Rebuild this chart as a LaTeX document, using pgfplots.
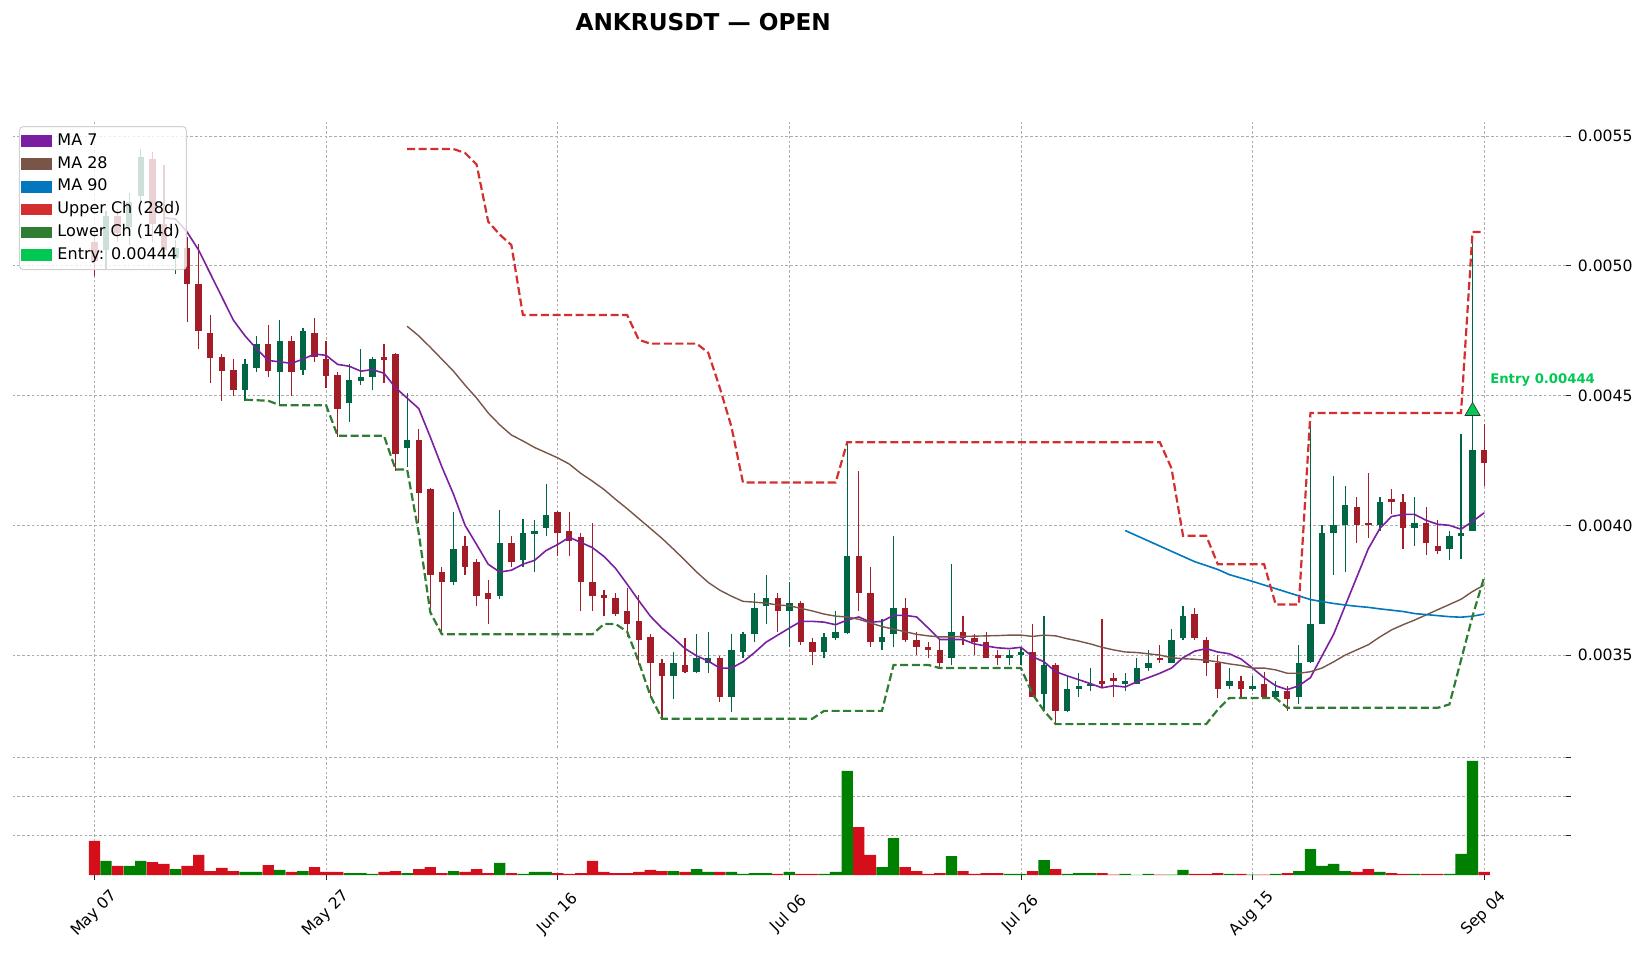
\documentclass[border=0pt]{standalone}
\usepackage{pgfplots}
\pgfplotsset{compat=1.18}
\usepackage{pgfplotstable}
\usepackage{fontspec}
\setmainfont{DejaVu Sans}

\definecolor{cgreen}{RGB}{0,102,68}
\definecolor{cred}{RGB}{163,29,41}
\definecolor{vgreen}{RGB}{0,128,0}
\definecolor{vred}{RGB}{212,14,26}
\definecolor{ma7}{RGB}{123,31,162}
\definecolor{ma28}{RGB}{121,85,72}
\definecolor{ma90}{RGB}{2,119,189}
\definecolor{upch}{RGB}{211,47,47}
\definecolor{loch}{RGB}{46,125,50}
\definecolor{entry}{RGB}{0,200,83}

% day open high low close volume, rising candles
\pgfplotstableread{
d o h l c v
1 0.00506 0.00521 0.004985 0.00519 0.36
3 0.00515 0.00528 0.00508 0.005245 0.23
4 0.00527 0.00545 0.00523 0.00542 0.36
7 0.00503 0.00510 0.00497 0.00507 0.15
13 0.00452 0.00464 0.00448 0.00462 0.08
14 0.004606 0.00473 0.00459 0.00470 0.08
16 0.00459 0.00479 0.00446 0.00471 0.13
18 0.004597 0.00476 0.00458 0.00475 0.10
22 0.00447 0.00462 0.00440 0.00456 0.05
23 0.004555 0.00468 0.00454 0.00457 0.05
24 0.00457 0.00465 0.00452 0.00464 0.03
27 0.004297 0.00451 0.004225 0.00433 0.05
31 0.00378 0.00405 0.00377 0.00391 0.10
35 0.003727 0.00406 0.003715 0.00393 0.31
37 0.003865 0.004025 0.00384 0.00397 0.03
38 0.003966 0.00402 0.00382 0.00398 0.08
39 0.00399 0.00416 0.00396 0.00404 0.08
50 0.00342 0.00351 0.00333 0.00347 0.10
52 0.003435 0.00358 0.00343 0.00349 0.15
53 0.00347 0.00359 0.00343 0.00349 0.08
55 0.00334 0.00358 0.00328 0.00352 0.08
56 0.00351 0.00359 0.00349 0.00358 0.03
57 0.00358 0.00374 0.00355 0.00368 0.05
58 0.00369 0.00381 0.00362 0.00372 0.05
60 0.00367 0.00378 0.00353 0.00370 0.08
63 0.00351 0.003585 0.00349 0.00357 0.03
64 0.003565 0.00367 0.00356 0.00359 0.08
65 0.003585 0.00432 0.00358 0.00388 2.65
68 0.00355 0.00364 0.00352 0.00357 0.20
69 0.00358 0.00396 0.00353 0.00368 0.94
74 0.00349 0.00385 0.00346 0.00359 0.48
79 0.00349 0.00352 0.00346 0.00350 0.03
80 0.00350 0.00353 0.00346 0.00351 0.03
82 0.00335 0.00365 0.003285 0.00346 0.38
84 0.003285 0.00342 0.00328 0.00337 0.03
85 0.00337 0.00343 0.00334 0.00338 0.05
86 0.00338 0.00345 0.00336 0.00339 0.05
89 0.00339 0.00343 0.00336 0.00340 0.03
90 0.00339 0.00349 0.003388 0.00345 0.005
91 0.00345 0.00352 0.00344 0.00347 0.03
93 0.00347 0.00360 0.003468 0.00356 0.01
94 0.003565 0.00369 0.00356 0.00365 0.13
98 0.00338 0.00345 0.00337 0.00340 0.03
100 0.00337 0.00342 0.00336 0.00338 0.01
102 0.00334 0.00340 0.003338 0.00336 0.03
104 0.00334 0.00354 0.00331 0.00347 0.10
105 0.003475 0.00440 0.00347 0.00362 0.66
106 0.00362 0.00400 0.003618 0.00397 0.23
107 0.00397 0.00419 0.00381 0.00400 0.28
108 0.00400 0.00415 0.00382 0.00408 0.10
111 0.00400 0.00411 0.00398 0.00409 0.08
114 0.00399 0.00411 0.00392 0.00401 0.03
117 0.00391 0.00398 0.003865 0.00396 0.03
118 0.00396 0.00435 0.00387 0.00397 0.54
119 0.00398 0.00509 0.00398 0.00429 2.90
}\gc

% falling candles
\pgfplotstableread{
d o h l c v
0 0.00509 0.00513 0.00496 0.00502 0.87
2 0.00519 0.00522 0.00509 0.005125 0.23
5 0.00541 0.00544 0.00509 0.00516 0.33
6 0.00516 0.00539 0.00504 0.00506 0.28
8 0.00507 0.00511 0.004785 0.00493 0.23
9 0.00493 0.005085 0.00468 0.00475 0.51
10 0.00474 0.00481 0.00455 0.004645 0.10
11 0.00465 0.00466 0.00448 0.004595 0.18
12 0.00460 0.00464 0.00450 0.00452 0.10
15 0.00470 0.00477 0.00457 0.004595 0.25
17 0.00471 0.00473 0.00450 0.00459 0.08
19 0.00474 0.00480 0.00463 0.00465 0.20
20 0.00464 0.00471 0.00453 0.004575 0.08
21 0.00458 0.00459 0.00434 0.00445 0.08
25 0.00465 0.00470 0.00455 0.004637 0.08
26 0.00466 0.004665 0.00421 0.004276 0.10
28 0.00433 0.00437 0.00401 0.004126 0.15
29 0.00414 0.004145 0.003665 0.00381 0.20
30 0.00382 0.00384 0.00359 0.00378 0.05
32 0.00392 0.00396 0.00381 0.00384 0.08
33 0.00386 0.00387 0.00369 0.003727 0.15
34 0.00374 0.00379 0.00362 0.003715 0.05
36 0.00393 0.00396 0.00384 0.00386 0.05
40 0.00405 0.004055 0.00388 0.00397 0.05
41 0.00398 0.00405 0.00388 0.00394 0.03
42 0.003955 0.00397 0.00367 0.00378 0.05
43 0.00378 0.00401 0.00367 0.003727 0.36
44 0.00373 0.00375 0.00365 0.00372 0.08
45 0.00372 0.00374 0.00365 0.00366 0.05
46 0.00367 0.00376 0.00357 0.00362 0.05
47 0.00363 0.00373 0.00346 0.00356 0.08
48 0.00357 0.00358 0.00334 0.00347 0.13
49 0.00347 0.003485 0.00325 0.00342 0.10
51 0.00346 0.003565 0.00343 0.003435 0.08
54 0.00349 0.003495 0.00332 0.00334 0.08
59 0.00372 0.00374 0.00359 0.00367 0.03
61 0.00370 0.00371 0.00354 0.00355 0.03
62 0.00355 0.003565 0.00346 0.00351 0.03
66 0.00388 0.00421 0.00367 0.00374 1.22
67 0.00374 0.00384 0.00353 0.00355 0.51
70 0.00368 0.00372 0.00355 0.00356 0.20
71 0.00356 0.00359 0.00350 0.00353 0.10
72 0.00353 0.00355 0.00349 0.00352 0.03
73 0.00352 0.00356 0.00345 0.00347 0.05
75 0.00359 0.00365 0.00354 0.003565 0.10
76 0.003565 0.00358 0.00350 0.00355 0.03
77 0.00355 0.00359 0.003488 0.00349 0.05
78 0.00350 0.00352 0.00346 0.00349 0.05
81 0.00351 0.00362 0.003338 0.00334 0.10
83 0.00346 0.00347 0.00323 0.003285 0.15
87 0.00340 0.00364 0.003375 0.00339 0.05
88 0.00341 0.00343 0.00334 0.00340 0.01
92 0.00349 0.00354 0.00347 0.00348 0.01
95 0.00366 0.00368 0.00356 0.003565 0.03
96 0.00356 0.00357 0.00342 0.00347 0.03
97 0.00347 0.00350 0.003335 0.00337 0.05
99 0.00340 0.00342 0.00334 0.00337 0.03
101 0.00339 0.003435 0.003335 0.00334 0.01
103 0.00336 0.00338 0.003285 0.00333 0.05
109 0.00407 0.00411 0.00393 0.00400 0.08
110 0.00401 0.00420 0.00395 0.00400 0.15
112 0.00410 0.00414 0.004045 0.00409 0.05
113 0.00409 0.00412 0.00391 0.00399 0.03
115 0.00401 0.00407 0.003885 0.00393 0.03
116 0.00392 0.00402 0.00389 0.00390 0.03
120 0.00429 0.00439 0.00415 0.00424 0.08
}\rc

\pgfplotstableread{
d m
6 0.005185
7 0.00518
8 0.00513
9 0.00506
10 0.00497
11 0.00488
12 0.00479
13 0.00473
14 0.00468
15 0.004635
16 0.00463
17 0.004624
18 0.00464
19 0.00466
20 0.004655
21 0.00462
22 0.004613
23 0.004594
24 0.0046
25 0.004586
26 0.00453
27 0.00449
28 0.00445
29 0.00434
30 0.004225
31 0.00412
32 0.004
33 0.003926
34 0.00385
35 0.00382
36 0.003827
37 0.00385
38 0.003865
39 0.003903
40 0.003926
41 0.003954
42 0.003934
43 0.003914
44 0.00388
45 0.003834
46 0.003773
47 0.00371
48 0.00365
49 0.003604
50 0.003566
51 0.003525
52 0.003497
53 0.003477
54 0.00345
55 0.00345
56 0.003474
57 0.00351
58 0.00355
59 0.003577
60 0.003604
61 0.00363
62 0.00363
63 0.003627
64 0.003617
65 0.003635
66 0.003647
67 0.003627
68 0.00363
69 0.003653
70 0.003653
71 0.003647
72 0.003604
73 0.00356
74 0.00356
75 0.00356
76 0.003543
77 0.003535
78 0.003528
79 0.003525
80 0.00353
81 0.003494
82 0.003474
83 0.003436
84 0.00342
85 0.003405
86 0.00339
87 0.003374
88 0.003382
89 0.003377
90 0.003397
91 0.003413
92 0.00343
93 0.00345
94 0.00349
95 0.003515
96 0.003525
97 0.003512
98 0.003505
99 0.003485
100 0.00345
101 0.003413
102 0.003382
103 0.003367
104 0.003382
105 0.003413
106 0.003497
107 0.00358
108 0.00369
109 0.0038
110 0.00391
111 0.003988
112 0.004034
113 0.004042
114 0.004042
115 0.004019
116 0.004004
117 0.004
118 0.003985
119 0.004015
120 0.004048
}\maseven

\pgfplotstableread{
d m
27 0.004767
28 0.00473
29 0.004686
30 0.00464
31 0.004594
32 0.00454
33 0.00449
34 0.004433
35 0.004387
36 0.004348
37 0.004325
38 0.0043
39 0.00428
40 0.00426
41 0.004236
42 0.0042
43 0.00417
44 0.004138
45 0.0041
46 0.004064
47 0.004026
48 0.003988
49 0.00395
50 0.003908
51 0.003865
52 0.00382
53 0.00378
54 0.00375
55 0.003727
56 0.003707
57 0.003704
58 0.0037
59 0.003693
60 0.00369
61 0.00368
62 0.00367
63 0.003658
64 0.00365
65 0.003647
66 0.003638
67 0.003624
68 0.00361
69 0.0036
70 0.00359
71 0.00358
72 0.003574
73 0.00357
74 0.00357
75 0.003572
76 0.003573
77 0.003574
78 0.003575
79 0.003577
80 0.003577
81 0.003572
82 0.003577
83 0.003574
84 0.003563
85 0.003554
86 0.003543
87 0.00353
88 0.00352
89 0.003512
90 0.00351
91 0.003505
92 0.0035
93 0.00349
94 0.003486
95 0.003484
96 0.00348
97 0.003474
98 0.003466
99 0.00346
100 0.00345
101 0.00345
102 0.003443
103 0.00343
104 0.00343
105 0.003436
106 0.00345
107 0.003474
108 0.0035
109 0.00352
110 0.00354
111 0.00357
112 0.003597
113 0.003617
114 0.003635
115 0.003655
116 0.003675
117 0.003695
118 0.003715
119 0.003745
120 0.00377
}\matwenty

\pgfplotstableread{
d m
89 0.00398
90 0.00396
91 0.00394
92 0.00392
93 0.0039
94 0.00388
95 0.00386
96 0.003845
97 0.00383
98 0.00381
99 0.003797
100 0.003784
101 0.00377
102 0.003756
103 0.003742
104 0.003728
105 0.003714
106 0.003706
107 0.003699
108 0.003693
109 0.003688
110 0.003684
111 0.003678
112 0.003673
113 0.003668
114 0.00366
115 0.003656
116 0.003652
117 0.003648
118 0.003646
119 0.00365
120 0.003658
}\maninety

\pgfplotstableread{
d m
27 0.00545
31 0.00545
32 0.005435
33 0.00539
34 0.00517
35 0.00512
36 0.00508
37 0.00481
46 0.00481
47 0.004715
48 0.0047
52 0.0047
53 0.004665
54 0.00453
55 0.00438
56 0.004165
64 0.004165
65 0.00432
92 0.00432
93 0.00422
94 0.00396
96 0.00396
97 0.00385
101 0.00385
102 0.003695
104 0.003695
105 0.004433
118 0.004433
119 0.00513
120 0.00513
}\chup

\pgfplotstableread{
d m
13 0.004484
15 0.00448
16 0.004463
20 0.004463
21 0.004345
25 0.004345
26 0.004215
27 0.004215
28 0.00397
29 0.003665
30 0.00358
43 0.00358
44 0.00362
45 0.00362
46 0.00359
47 0.003474
48 0.003344
49 0.003255
62 0.003255
63 0.003285
68 0.003285
69 0.003462
72 0.003462
73 0.00345
80 0.00345
81 0.00335
82 0.003285
83 0.003234
96 0.003234
97 0.00329
98 0.003335
102 0.003335
103 0.003297
116 0.003297
117 0.00331
118 0.00348
119 0.00365
120 0.0038
}\chlo

\pgfplotsset{
  chartgrid/.style={grid=major, grid style={black!32, line width=0.4pt, dash pattern=on 1.3pt off 1.1pt}},
  candle/.style={forget plot, draw=none, mark=none,
    error bars/.cd, y dir=plus, y explicit, error mark=none,
    error bar style={draw=#1, solid}},
}

\begin{document}
\begin{tikzpicture}[x=1pt,y=1pt]
\path[use as bounding box] (0,0) rectangle (824,477.5);

\node[font=\bfseries\fontsize{11.6}{13}\selectfont] at (351.6,466.5) {ANKRUSDT — OPEN};

\begin{axis}[
  at={(6.3pt,103.5pt)}, anchor=south west,
  scale only axis, width=776.7pt, height=313pt,
  xmin=-7.07, xmax=127.07, ymin=0.003142, ymax=0.005554,
  clip=false,
  axis line style={draw=none},
  xtick={0,20,...,120}, xticklabels={}, xtick style={draw=none},
  ytick={0.0035,0.004,0.0045,0.005,0.0055},
  yticklabels={0.0035,0.0040,0.0045,0.0050,0.0055},
  ytick pos=right, yticklabel pos=right,
  tick align=outside, major tick length=2.4pt,
  ytick style={black!85, line width=0.4pt},
  chartgrid,
  tick label style={font=\fontsize{7.8}{9}\selectfont},
  scaled y ticks=false,
  legend image code/.code={\fill[#1, draw=none, sharp corners, fill opacity=1] (1.8pt,-2.9pt) rectangle (17.2pt,2.9pt);},
  legend cell align=left,
  legend style={at={(0,1)}, anchor=north west, xshift=3.2pt, yshift=-2pt,
    fill=white, fill opacity=0.8, text opacity=1, draw=black!18, line width=0.5pt,
    rounded corners=2pt, font=\fontsize{8}{9}\selectfont,
    inner xsep=1pt, inner ysep=1.6pt, row sep=0pt, column sep=0.6pt,
    nodes={inner sep=2pt, text height=5.8pt, text depth=1.6pt}},
]
\addlegendimage{fill=ma7}\addlegendentry{MA 7}
\addlegendimage{fill=ma28}\addlegendentry{MA 28}
\addlegendimage{fill=ma90}\addlegendentry{MA 90}
\addlegendimage{fill=upch}\addlegendentry{Upper Ch (28d)}
\addlegendimage{fill=loch}\addlegendentry{Lower Ch (14d)}
\addlegendimage{fill=entry}\addlegendentry{Entry: 0.00444}

% wicks
\addplot[candle=cgreen, error bar style={line width=0.6pt}]
  table[x=d, y=l, y error plus expr=\thisrow{h}-\thisrow{l}] {\gc};
\addplot[candle=cred, error bar style={line width=0.6pt}]
  table[x=d, y=l, y error plus expr=\thisrow{h}-\thisrow{l}] {\rc};
% bodies
\addplot[candle=cgreen, error bar style={line width=3.2pt}]
  table[x=d, y=o, y error plus expr=\thisrow{c}-\thisrow{o}] {\gc};
\addplot[candle=cred, error bar style={line width=3.2pt}]
  table[x=d, y=c, y error plus expr=\thisrow{o}-\thisrow{c}] {\rc};

\addplot[forget plot, ma7, line width=0.8pt] table[x=d, y=m] {\maseven};
\addplot[forget plot, ma28, line width=0.7pt] table[x=d, y=m] {\matwenty};
\addplot[forget plot, ma90, line width=0.8pt] table[x=d, y=m] {\maninety};
\addplot[forget plot, upch, line width=1.1pt, dash pattern=on 4pt off 1.8pt] table[x=d, y=m] {\chup};
\addplot[forget plot, loch, line width=1.1pt, dash pattern=on 4pt off 1.8pt] table[x=d, y=m] {\chlo};

\addplot[forget plot, only marks, mark=triangle*, mark size=4.4pt,
  mark options={fill=entry, draw=black!80, line width=0.3pt}] coordinates {(119,0.00444)};
\node[anchor=west, text=entry, font=\bfseries\fontsize{6.6}{8}\selectfont, inner sep=0pt]
  at (axis cs:120.5,0.00456) {Entry 0.00444};
\end{axis}

\begin{axis}[
  at={(6.3pt,40pt)}, anchor=south west,
  scale only axis, width=776.7pt, height=59pt,
  xmin=-7.07, xmax=127.07, ymin=0, ymax=3.0,
  axis line style={draw=none},
  xtick={0,20,...,120},
  xticklabels={May 07,May 27,Jun 16,Jul 06,Jul 26,Aug 15,Sep 04},
  xtick pos=bottom, ytick pos=right,
  ytick={1,2,3}, yticklabels={},
  tick align=outside, major tick length=2.4pt,
  tick style={black!85, line width=0.4pt},
  chartgrid,
  xticklabel style={font=\fontsize{7.8}{9}\selectfont, yshift=-17pt, rotate=45, anchor=center},
]
\addplot[ybar, bar width=0.98, bar shift=0pt, fill=vgreen, draw=none] table[x=d, y=v] {\gc};
\addplot[ybar, bar width=0.98, bar shift=0pt, fill=vred, draw=none] table[x=d, y=v] {\rc};
\end{axis}
\end{tikzpicture}
\end{document}
